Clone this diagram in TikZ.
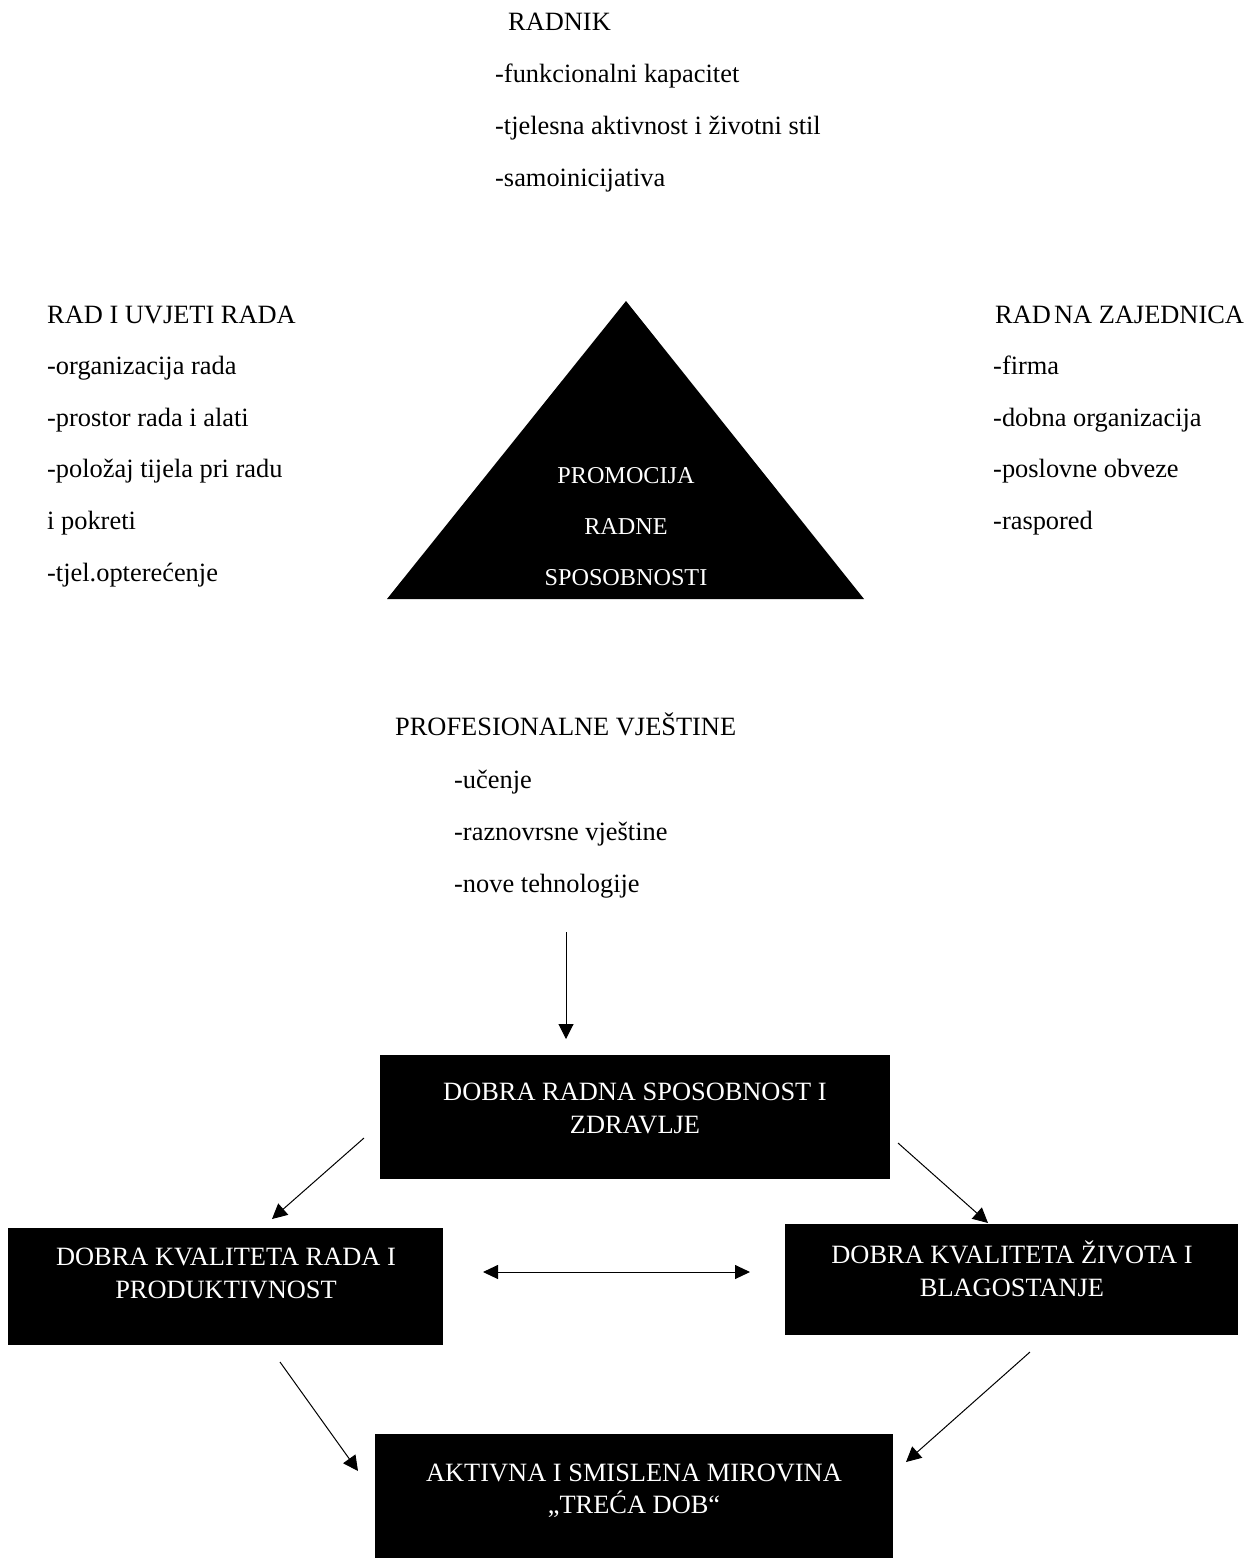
\documentclass[tikz,border=0pt]{standalone}
\usepackage{fontspec}
\setmainfont{Liberation Serif}
\usetikzlibrary{arrows.meta}
\newcommand\bodyfnt{\fontsize{26.4}{31}\selectfont}
\newcommand\trifnt{\fontsize{24.2}{29}\selectfont}
\begin{document}
\begin{tikzpicture}[x=1pt,y=-1pt,
  txt/.style={anchor=base west, inner sep=0pt, font=\bodyfnt},
  btxt/.style={anchor=base, inner sep=0pt, font=\bodyfnt, text=white},
  ttxt/.style={anchor=base, inner sep=0pt, font=\trifnt, text=white},
  blackbox/.style={fill=black, draw=none, inner sep=0pt},
  arr/.style={line width=1pt, -{Triangle[length=15pt,width=15pt]}},
  darr/.style={line width=1pt, {Triangle[length=15pt,width=14pt]}-{Triangle[length=15pt,width=14pt]}}]
\useasboundingbox (0,0) rectangle (1257,1558);
\fill[white] (0,0) rectangle (1257,1558);

% RADNIK
\node[txt] (r0) at (508,30) {RADNIK};
\node[txt] (r1) at (495,82) {-funkcionalni kapacitet};
\node[txt] (r2) at (495,134) {-tjelesna aktivnost i životni stil};
\node[txt] (r3) at (495,186) {-samoinicijativa};

% RAD I UVJETI RADA
\node[txt] (l0) at (47,323) {RAD I UVJETI RADA};
\node[txt] (l1) at (47,374.6) {-organizacija rada};
\node[txt] (l2) at (47,426.2) {-prostor rada i alati};
\node[txt] (l3) at (47,477.8) {-položaj tijela pri radu};
\node[txt] (l4) at (47,529.4) {i pokreti};
\node[txt] (l5) at (47,581) {-tjel.opterećenje};

% RADNA ZAJEDNICA
\node[txt] (z0) at (995,323) {RAD\kern0.12em NA ZAJEDNICA};
\node[txt] (z1) at (993,374.6) {-firma};
\node[txt] (z2) at (993,426.2) {-dobna organizacija};
\node[txt] (z3) at (993,477.8) {-poslovne obveze};
\node[txt] (z4) at (993,529.4) {-raspored};

% triangle
\fill[black] (626,301) -- (387,599) -- (864,599) -- cycle;
\node[ttxt] (t1) at (626,483) {PROMOCIJA};
\node[ttxt] (t2) at (626,534) {RADNE};
\node[ttxt] (t3) at (626,585) {SPOSOBNOSTI};

% PROFESIONALNE VJESTINE
\node[txt] (p0) at (395,735) {PROFESIONALNE VJEŠTINE};
\node[txt] (p1) at (454,788) {-učenje};
\node[txt] (p2) at (454,840) {-raznovrsne vještine};
\node[txt] (p3) at (454,892) {-nove tehnologije};

% boxes
\node[blackbox, minimum width=510pt, minimum height=124pt] (b1) at (635,1117) {};
\node[btxt] (b1a) at (635,1100) {DOBRA RADNA SPOSOBNOST I};
\node[btxt] (b1b) at (635,1133) {ZDRAVLJE};

\node[blackbox, minimum width=435pt, minimum height=117pt] (b2) at (225.5,1286.5) {};
\node[btxt] (b2a) at (226,1265) {DOBRA KVALITETA RADA I};
\node[btxt] (b2b) at (226,1298) {PRODUKTIVNOST};

\node[blackbox, minimum width=453pt, minimum height=111pt] (b3) at (1011.5,1279.5) {};
\node[btxt] (b3a) at (1012,1263) {DOBRA KVALITETA ŽIVOTA I};
\node[btxt] (b3b) at (1012,1296) {BLAGOSTANJE};

\node[blackbox, minimum width=518pt, minimum height=126pt] (b4) at (634,1497) {};
\node[btxt] (b4a) at (634,1481) {AKTIVNA I SMISLENA MIROVINA};
\node[btxt] (b4b) at (634,1513) {„TREĆA DOB“};

% arrows
\coordinate (a1s) at (566,932);
\coordinate (a1e) at (566,1039);
\coordinate (a2s) at (364,1138);
\coordinate (a2e) at (272,1219);
\coordinate (a3s) at (898,1143);
\coordinate (a3e) at (988,1223);
\coordinate (a4s) at (483,1272);
\coordinate (a4e) at (750,1272);
\coordinate (a5s) at (280,1362);
\coordinate (a5e) at (358,1471);
\coordinate (a6s) at (1030,1352);
\coordinate (a6e) at (906,1462);
\draw[arr] (a1s) -- (a1e);
\draw[arr] (a2s) -- (a2e);
\draw[arr] (a3s) -- (a3e);
\draw[darr] (a4s) -- (a4e);
\draw[arr] (a5s) -- (a5e);
\draw[arr] (a6s) -- (a6e);
\end{tikzpicture}
\end{document}
